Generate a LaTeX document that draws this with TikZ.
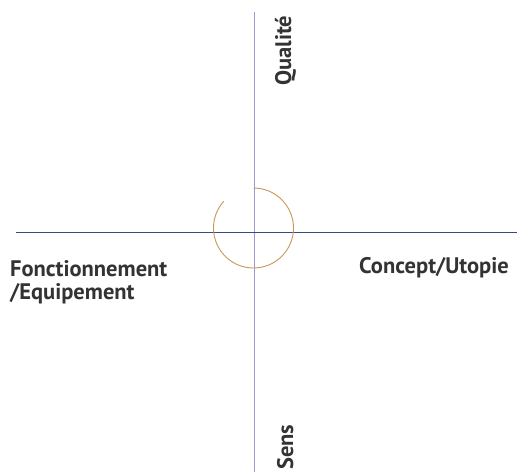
\documentclass[tikz,border=0pt]{standalone}
\usepackage{fontspec}
\setsansfont{PT Sans}
\usepackage{xcolor}
\definecolor{axisv}{HTML}{9A9AD2}
\definecolor{axish}{HTML}{3C4680}
\definecolor{arccol}{HTML}{C8985A}
\definecolor{label}{HTML}{333333}

\begin{document}
\begin{tikzpicture}[x=1pt,y=1pt,
    lab/.style={font=\sffamily\bfseries\fontsize{22.5}{24}\selectfont,text=label,inner sep=0pt}]
        % \draw[help lines] grid(517,472);
        \useasboundingbox[draw=none,fill=white] (0,0) rectangle (517,472);

        \coordinate (top) at (254,460);
        \coordinate (bot) at (254,0);
        \coordinate (left) at (16,239);
        \coordinate (right) at (517,239);
        \coordinate (mid) at (253.5,244);

        \draw[axisv,line width=0.8pt] (top) -- (bot);
        \draw[axish,line width=1pt] (left) -- (right);
        \draw[arccol,line width=0.9pt] (mid) ++(0,40) arc[start angle=90,end angle=-222,radius=40];

        \node[lab,anchor=base west] (fonc) at (10,196) {Fonctionnement};
        \node[lab,anchor=base west] (equip) at (10,172) {/Equipement};
        \node[lab,anchor=base west] (concept) at (359,199) {Concept/Utopie};
        \node[lab,anchor=base west,rotate=90] (qual) at (291,386) {Qualité};
        \node[lab,anchor=base west,rotate=90] (sens) at (293,2) {Sens};
    \end{tikzpicture}
\end{document}
